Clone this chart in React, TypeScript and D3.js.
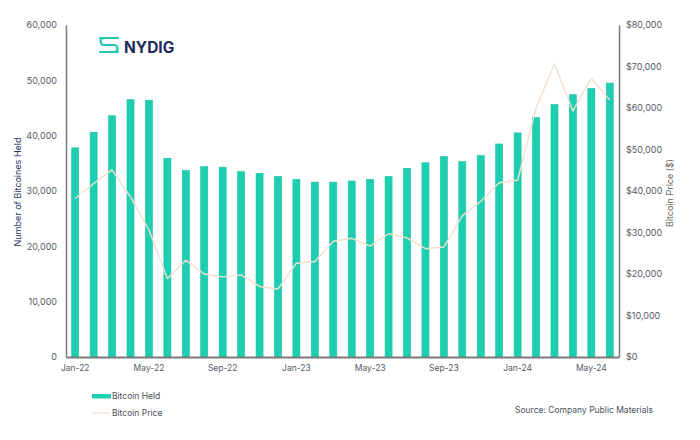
import { useEffect, useRef } from "react";
import * as d3 from "d3";

// month labels, Jan-22 .. Jun-24
const months = [
  "Jan-22", "Feb-22", "Mar-22", "Apr-22", "May-22", "Jun-22",
  "Jul-22", "Aug-22", "Sep-22", "Oct-22", "Nov-22", "Dec-22",
  "Jan-23", "Feb-23", "Mar-23", "Apr-23", "May-23", "Jun-23",
  "Jul-23", "Aug-23", "Sep-23", "Oct-23", "Nov-23", "Dec-23",
  "Jan-24", "Feb-24", "Mar-24", "Apr-24", "May-24", "Jun-24",
];

// Bitcoin held (left axis)
const held = [
  37800, 40600, 43600, 46500, 46400, 35900,
  33700, 34400, 34300, 33500, 33200, 32600,
  32100, 31600, 31600, 31800, 32100, 32600,
  34100, 35100, 36200, 35300, 36400, 38500,
  40500, 43300, 45600, 47400, 48500, 49500,
];

// Bitcoin price in USD (right axis)
const price = [
  38200, 41800, 45100, 38600, 30600, 18900,
  23300, 20000, 19300, 19800, 17000, 16400,
  22600, 23000, 27900, 28600, 26700, 29700,
  28700, 26100, 26500, 34000, 37500, 42000,
  42600, 60000, 70600, 59300, 67200, 61900,
];

const xTicks = ["Jan-22", "May-22", "Sep-22", "Jan-23", "May-23", "Sep-23", "Jan-24", "May-24"];
const leftTicks = [0, 10000, 20000, 30000, 40000, 50000, 60000];
const rightTicks = [0, 10000, 20000, 30000, 40000, 50000, 60000, 70000, 80000];

const W = 700;
const H = 440;
const TEAL = "#1ccfb1";
const LINE = "#f5e0d0";
const AXIS = "#7a7a7a";
const LABEL = "#555a66";
const FONT = "Inter, 'Open Sans', sans-serif";

export default function App() {
  const svgRef = useRef<SVGSVGElement>(null);

  useEffect(() => {
    if (!svgRef.current) return;
    const svg = d3.select(svgRef.current);
    svg.selectAll("*").remove();

    const left = 66, right = 619, top = 25, bottom = 357;

    // ── Scales ──────────────────────────────────────────────
    const x = d3.scaleBand<string>()
      .domain(months)
      .range([left, right])
      .paddingInner(0.62)
      .paddingOuter(0.31);

    const yLeft = d3.scaleLinear().domain([0, 60000]).range([bottom, top]);
    const yRight = d3.scaleLinear().domain([0, 80000]).range([bottom, top]);

    // ── Bars ────────────────────────────────────────────────
    svg.append("g")
      .selectAll("rect")
      .data(held)
      .join("rect")
      .attr("x", (_, i) => x(months[i])!)
      .attr("y", (d) => yLeft(d))
      .attr("width", x.bandwidth())
      .attr("height", (d) => bottom - yLeft(d))
      .attr("fill", TEAL)
      .attr("stroke", "#17bfa3")
      .attr("stroke-width", 0.6);

    // ── Price line ──────────────────────────────────────────
    const line = d3.line<number>()
      .x((_, i) => x(months[i])! + x.bandwidth() / 2)
      .y((d) => yRight(d));

    svg.append("path")
      .datum(price)
      .attr("fill", "none")
      .attr("stroke", LINE)
      .attr("stroke-width", 1.4)
      .attr("stroke-linejoin", "round")
      .attr("d", line);

    // ── Left axis ───────────────────────────────────────────
    svg.append("g")
      .attr("transform", `translate(${left},0)`)
      .call(
        d3.axisLeft(yLeft).tickValues(leftTicks).tickSize(0).tickPadding(9)
          .tickFormat((v) => d3.format(",")(Number(v)))
      )
      .call((ag) => ag.select(".domain").attr("stroke", AXIS).attr("stroke-width", 1.5))
      .call((ag) => ag.selectAll(".tick text")
        .attr("fill", LABEL).attr("font-size", 9).attr("font-family", FONT));

    // ── Right axis ──────────────────────────────────────────
    svg.append("g")
      .attr("transform", `translate(${right},0)`)
      .call(
        d3.axisRight(yRight).tickValues(rightTicks).tickSize(0).tickPadding(7)
          .tickFormat((v) => "$" + d3.format(",")(Number(v)))
      )
      .call((ag) => ag.select(".domain").attr("stroke", AXIS).attr("stroke-width", 1.5))
      .call((ag) => ag.selectAll(".tick text")
        .attr("fill", LABEL).attr("font-size", 9).attr("font-family", FONT));

    // ── Bottom axis ─────────────────────────────────────────
    svg.append("g")
      .attr("transform", `translate(0,${bottom})`)
      .call(d3.axisBottom(x).tickValues(xTicks).tickSize(0).tickPadding(8))
      .call((ag) => ag.select(".domain").attr("stroke", AXIS).attr("stroke-width", 1.8))
      .call((ag) => ag.selectAll(".tick text")
        .attr("fill", LABEL).attr("font-size", 8.5).attr("font-family", FONT));

    // ── Axis titles ─────────────────────────────────────────
    svg.append("text")
      .attr("transform", "translate(21,192) rotate(-90)")
      .attr("text-anchor", "middle")
      .attr("fill", "#2c3260").attr("font-size", 9).attr("font-family", FONT)
      .text("Number of Bitcoines Held");

    svg.append("text")
      .attr("transform", "translate(673,193) rotate(-90)")
      .attr("text-anchor", "middle")
      .attr("fill", "#666").attr("font-size", 9).attr("font-family", FONT)
      .text("Bitcoin Price ($)");

    // ── Logo ────────────────────────────────────────────────
    const logo = svg.append("g")
      .attr("fill", "none").attr("stroke", "#22c9b2").attr("stroke-width", 2.2)
      .attr("stroke-linecap", "round");
    logo.append("path").attr("d", "M118,38 H104 a3.5,3.5 0 0 0 0,7 H114 a3.5,3.5 0 0 1 0,7 H100");
    logo.append("path").attr("d", "M100,38 H103 M115,52 H118");
    svg.append("text")
      .attr("x", 124).attr("y", 53)
      .attr("fill", "#222a5c").attr("font-size", 15.5).attr("font-weight", 700)
      .attr("font-family", FONT)
      .text("NYDIG");

    // ── Legend ──────────────────────────────────────────────
    const lg = svg.append("g").attr("font-family", FONT).attr("font-size", 8.5).attr("fill", "#4a4f5c");
    lg.append("rect").attr("x", 92).attr("y", 394).attr("width", 19).attr("height", 4.5).attr("fill", TEAL);
    lg.append("text").attr("x", 112).attr("y", 399).text("Bitcoin Held");
    lg.append("line").attr("x1", 92).attr("x2", 110).attr("y1", 413).attr("y2", 413)
      .attr("stroke", LINE).attr("stroke-width", 1.2);
    lg.append("text").attr("x", 112).attr("y", 416).text("Bitcoin Price");

    // ── Source ──────────────────────────────────────────────
    svg.append("text")
      .attr("x", 515).attr("y", 413)
      .attr("fill", "#4a4f5c").attr("font-size", 8.5).attr("font-family", FONT)
      .text("Source: Company Public Materials");
  }, []);

  return (
    <div style={{ position: "absolute", left: 0, top: 0, background: "#fff" }}>
      <svg ref={svgRef} width={W} height={H} />
    </div>
  );
}
